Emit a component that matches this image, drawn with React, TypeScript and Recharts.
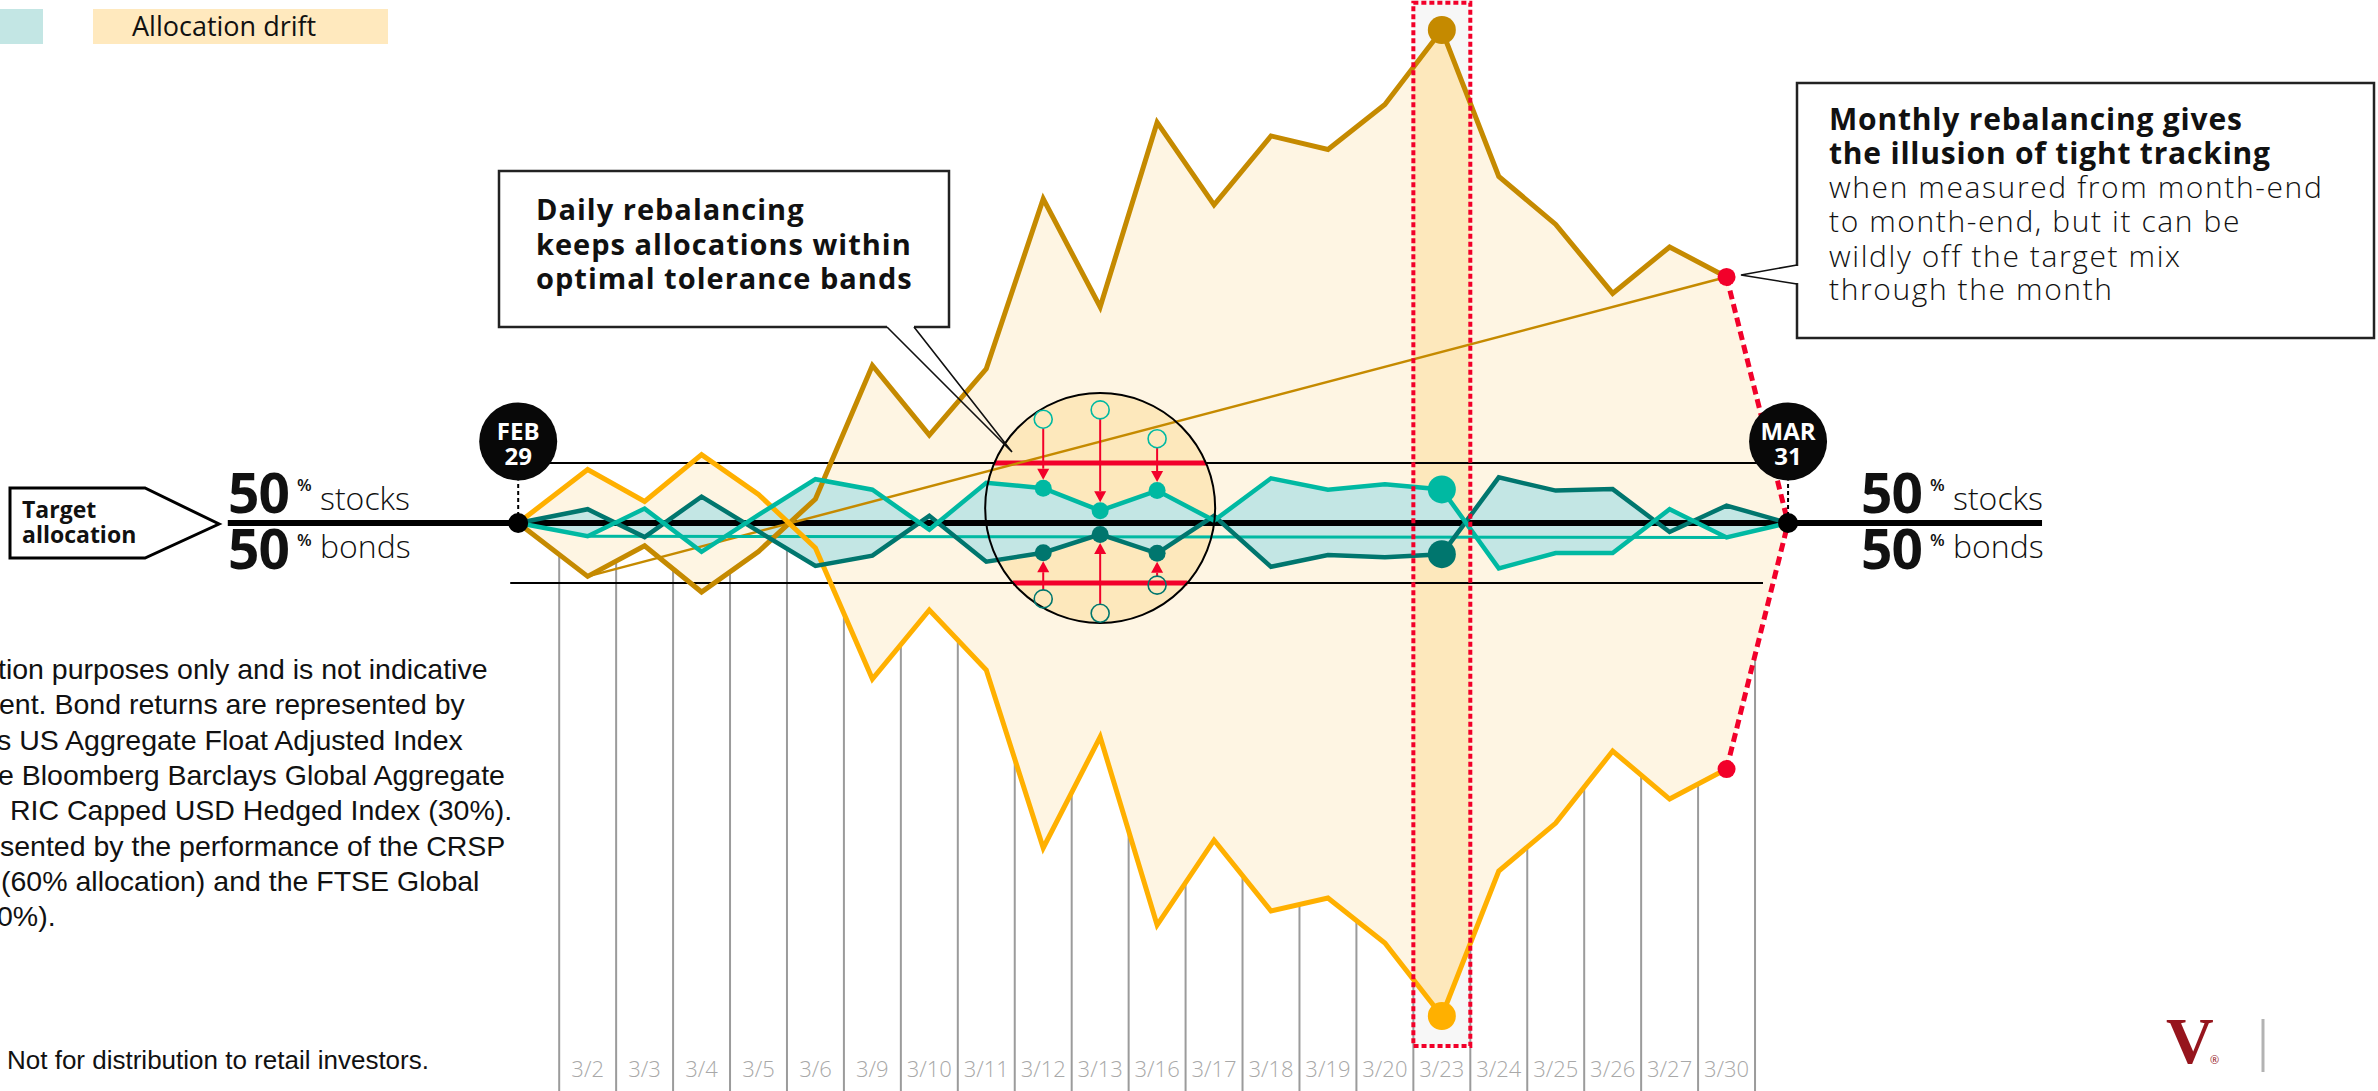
import React from "react";
import {
  Area,
  ComposedChart,
  Line,
  ReferenceArea,
  ReferenceDot,
  ReferenceLine,
  XAxis,
  YAxis,
} from "recharts";

const W = 2378;
const H = 1091;

// trading days of March plus the two month-end anchors
const days = [
  "FEB 29", "3/2", "3/3", "3/4", "3/5", "3/6", "3/9", "3/10", "3/11", "3/12", "3/13",
  "3/16", "3/17", "3/18", "3/19", "3/20", "3/23", "3/24", "3/25", "3/26", "3/27", "3/30", "MAR 31",
];
// trading days sit on whole slots, the month-end anchors just outside them
const slots = [
  -0.22, 1, 2, 3, 4, 5, 6, 7, 8, 9, 10, 11, 12, 13, 14, 15, 16, 17, 18, 19, 20, 21, 22.08,
];

// drift from the 50/50 target, percentage points
const monthlyStocks = [
  0, -1.78, -0.76, -2.3, -0.95, 0.8, 5.25, 2.93, 5.14, 10.8, 7.2, 13.35, 10.6, 12.9, 12.45,
  13.95, 16.43, 11.55, 9.95, 7.65, 9.2, 8.2, 0,
];
const monthlyBonds = [
  0, 1.78, 0.72, 2.28, 0.95, -0.83, -5.2, -2.9, -4.9, -10.83, -7.13, -13.4, -10.57, -12.93,
  -12.5, -14.0, -16.43, -11.6, -10.0, -7.6, -9.2, -8.2, 0,
];
const dailyStocks = [
  0, -0.44, 0.48, -0.96, 0.27, 1.46, 1.11, -0.22, 1.34, 1.16, 0.41, 1.08, 0.08, 1.49, 1.11,
  1.29, 1.12, -1.51, -1.0, -1.0, 0.46, -0.48, 0,
];
const dailyBonds = [
  0, 0.46, -0.47, 0.88, -0.28, -1.43, -1.09, 0.24, -1.29, -0.99, -0.38, -1.01, 0.24, -1.46,
  -1.07, -1.14, -1.04, 1.52, 1.08, 1.13, -0.3, 0.58, 0,
];

// the three days inside the magnifier: drift before the daily trade
const zoomDays = ["3/12", "3/13", "3/16"];
const zoomStocksBefore = [3.46, 3.77, 2.81];
const zoomBondsBefore = [-2.53, -3.01, -2.07];

const tolerance = 2;
const spotlightDay = "3/23";
const magnifierDay = "3/13";

const GOLD = "#C58A00";
const YELLOW = "#FFB000";
const TEAL = "#00B9A2";
const TEAL_DARK = "#00766E";
const TEAL_FILL = "#C3E6E4";
const CREAM = "#FEF5E3";
const PEACH = "#FDE8BC";
const RED = "#F2002A";
const GRID = "#9B9B9B";
const SANS = "'Open Sans', 'Noto Sans', sans-serif";

const X_DOMAIN: [number, number] = [-9.32, 32.44];
const Y_DOMAIN: [number, number] = [-18.93, 17.43];
const PX_X = W / (X_DOMAIN[1] - X_DOMAIN[0]);
const PX_Y = H / (Y_DOMAIN[1] - Y_DOMAIN[0]);
const pxOfSlot = (s: number) => (s - X_DOMAIN[0]) * PX_X;

const MAG_R = 115;
const MAG_Y = 0.5;
const BADGE_Y = 2.72;
const BADGE_R = 39;
const OPEN_R = 9;
const SMALL_DOT = 8.5;
const BIG_DOT = 14;

const last = days.length - 1;
const slotOf = (d: string) => slots[days.indexOf(d)];

const rows = days.map((day, i) => ({
  day,
  slot: slots[i],
  drift: [monthlyBonds[i], monthlyStocks[i]],
  daily: [dailyBonds[i], dailyStocks[i]],
  stocksM: i < last ? monthlyStocks[i] : null,
  bondsM: i < last ? monthlyBonds[i] : null,
  stocksD: dailyStocks[i],
  bondsD: dailyBonds[i],
}));

const tickSlots = slots.slice(1, last);
const gridSlots = [0, ...tickSlots].map((s) => s + 0.5);
const spot = slotOf(spotlightDay);
const magX = slotOf(magnifierDay);

// half width of the magnifier at a given drift level, in slot units
const chord = (y: number) => {
  const dy = (y - MAG_Y) * PX_Y;
  return Math.sqrt(Math.max(0, MAG_R * MAG_R - dy * dy)) / PX_X;
};

const dotRenderer =
  (color: string, sizes: Record<string, number>) =>
  (p: any) => {
    const r = sizes[p.payload?.day];
    if (!r || p.cx == null || p.cy == null) return <g key={`n-${p.index}`} />;
    return <circle key={`d-${p.index}`} cx={p.cx} cy={p.cy} r={r} fill={color} />;
  };

const tealSizes: Record<string, number> = {
  "3/12": SMALL_DOT,
  "3/13": SMALL_DOT,
  "3/16": SMALL_DOT,
  [spotlightDay]: BIG_DOT,
};
const goldSizes: Record<string, number> = { [spotlightDay]: BIG_DOT };

const Arrow = (p: any) => {
  const { x1, y1, y2 } = p;
  const dir = y2 > y1 ? 1 : -1;
  const start = y1 + dir * OPEN_R;
  const tip = y2 - dir * SMALL_DOT;
  const base = tip - dir * 11;
  return (
    <g>
      <line x1={x1} y1={start} x2={x1} y2={base} stroke={RED} strokeWidth={2} />
      <polygon points={`${x1 - 6},${base} ${x1 + 6},${base} ${x1},${tip}`} fill={RED} />
    </g>
  );
};

const Badge = (top: string, bottom: string) => (p: any) => (
  <g>
    <circle cx={p.cx} cy={p.cy} r={BADGE_R} fill="#080808" />
    <text x={p.cx} y={p.cy - 1} textAnchor="middle" fill="#fff" fontFamily={SANS} fontWeight={700} fontSize={24}>
      {top}
    </text>
    <text x={p.cx} y={p.cy + 24} textAnchor="middle" fill="#fff" fontFamily={SANS} fontWeight={700} fontSize={24}>
      {bottom}
    </text>
  </g>
);

function Split({ x }: { x: number }) {
  return (
    <g fontFamily={SANS} fill="#111">
      <text x={x - 2} y={513} fontSize={55} fontWeight={700} letterSpacing={-1}>50</text>
      <text x={x + 67} y={491} fontSize={17} fontWeight={600}>%</text>
      <text x={x + 90} y={510} fontSize={32} fontWeight={300}>stocks</text>
      <text x={x - 2} y={569} fontSize={55} fontWeight={700} letterSpacing={-1}>50</text>
      <text x={x + 67} y={546} fontSize={17} fontWeight={600}>%</text>
      <text x={x + 90} y={558} fontSize={32} fontWeight={300}>bonds</text>
    </g>
  );
}

const footnote = [
  { x: -2, text: "tion purposes only and is not indicative" },
  { x: -1, text: "ent. Bond returns are represented by" },
  { x: -3, text: "s US Aggregate Float Adjusted Index" },
  { x: -2, text: "e Bloomberg Barclays Global Aggregate" },
  { x: 10, text: "RIC Capped USD Hedged Index (30%)." },
  { x: 0, text: "sented by the performance of the CRSP" },
  { x: 1, text: "(60% allocation) and the FTSE Global" },
  { x: -3, text: "0%)." },
];

function Annotations() {
  return (
    <svg width={W} height={H} style={{ position: "absolute", left: 0, top: 0, pointerEvents: "none" }}>
      {/* legend */}
      <rect x={-5} y={9} width={48} height={35} fill={TEAL_FILL} />
      <rect x={93} y={9} width={295} height={35} fill="#FFE9BE" />
      <text x={132} y={36} fontFamily={SANS} fontSize={27} fill="#111">Allocation drift</text>

      {/* target allocation tag */}
      <polygon points="10,488 145,488 219,524 145,558 10,558" fill="#fff" stroke="#000" strokeWidth={3} />
      <text x={22} y={518} fontFamily={SANS} fontWeight={700} fontSize={23} fill="#111">Target</text>
      <text x={22} y={543} fontFamily={SANS} fontWeight={700} fontSize={23} fill="#111">allocation</text>
      <Split x={230} />
      <Split x={1863} />

      {/* daily callout */}
      <rect x={499} y={171} width={450} height={156} fill="#fff" stroke="#222" strokeWidth={2.5} />
      <line x1={887} y1={327} x2={914} y2={327} stroke="#fff" strokeWidth={4} />
      <path d="M887,327 L1012,452 L914,327" fill="none" stroke="#111" strokeWidth={1.6} />
      <g fontFamily={SANS} fontWeight={700} fontSize={29} fill="#111" letterSpacing={1}>
        <text x={536} y={220}>Daily rebalancing</text>
        <text x={536} y={255}>keeps allocations within</text>
        <text x={536} y={289}>optimal tolerance bands</text>
      </g>

      {/* monthly callout */}
      <rect x={1797} y={83} width={577} height={255} fill="#fff" stroke="#222" strokeWidth={2.5} />
      <line x1={1797} y1={266} x2={1797} y2={283} stroke="#fff" strokeWidth={4} />
      <path d="M1797,265 L1741,275 L1797,284" fill="none" stroke="#111" strokeWidth={1.6} />
      <g fontFamily={SANS} fontSize={30} fill="#111">
        <text x={1829} y={130} fontWeight={700} letterSpacing={0.8}>Monthly rebalancing gives</text>
        <text x={1829} y={164} fontWeight={700} letterSpacing={0.8}>the illusion of tight tracking</text>
        <text x={1829} y={198} fontWeight={300} letterSpacing={1.6}>when measured from month-end</text>
        <text x={1829} y={232} fontWeight={300} letterSpacing={1.6}>to month-end, but it can be</text>
        <text x={1829} y={267} fontWeight={300} letterSpacing={1.6}>wildly off the target mix</text>
        <text x={1829} y={300} fontWeight={300} letterSpacing={1.6}>through the month</text>
      </g>

      {/* footnote */}
      <g fontFamily="'Liberation Sans', Arial, sans-serif" fill="#111">
        {footnote.map((l, i) => (
          <text key={i} x={l.x} y={679 + i * 35.3} fontSize={28.5}>{l.text}</text>
        ))}
        <text x={7} y={1069} fontSize={26}>Not for distribution to retail investors.</text>
      </g>

      {/* logo */}
      <text x={2166} y={1063} fontFamily="'Liberation Serif', serif" fontWeight={700} fontSize={66} fill="#96151D">V</text>
      <text x={2210} y={1064} fontFamily={SANS} fontSize={11} fill="#96151D">®</text>
      <line x1={2263} y1={1019} x2={2263} y2={1072} stroke="#B3B3B3" strokeWidth={3} />
    </svg>
  );
}

export default function App() {
  const c0 = pxOfSlot(spot - 0.5) / W;
  const c1 = pxOfSlot(spot + 0.5) / W;
  const top = Y_DOMAIN[1];
  const columnBottom = -17.43;
  const lineStart = -5.32;
  const lineEnd = 26.54;

  return (
    <div style={{ position: "relative", width: W, height: H, overflow: "hidden", background: "#fff" }}>
      <style>{"body{margin:0}"}</style>
      <ComposedChart width={W} height={H} data={rows} margin={{ top: 0, right: 0, bottom: 0, left: 0 }}>
        <defs>
          <linearGradient id="driftFill" gradientUnits="userSpaceOnUse" x1={0} y1={0} x2={W} y2={0}>
            <stop offset={c0} stopColor={CREAM} />
            <stop offset={c0} stopColor={PEACH} />
            <stop offset={c1} stopColor={PEACH} />
            <stop offset={c1} stopColor={CREAM} />
          </linearGradient>
        </defs>
        <XAxis
          type="number"
          dataKey="slot"
          domain={X_DOMAIN}
          allowDataOverflow
          ticks={tickSlots}
          interval={0}
          tickFormatter={(v) => days[slots.indexOf(v)] ?? ""}
          axisLine={false}
          tickLine={false}
          mirror
          tickMargin={8}
          tick={{ fill: "#A8A8A8", fontSize: 22, fontFamily: SANS, fontWeight: 300 }}
        />
        <YAxis type="number" domain={Y_DOMAIN} allowDataOverflow hide />

        <ReferenceArea x1={spot - 0.5} x2={spot + 0.5} y1={columnBottom} y2={top} fill="#F7F7F7" fillOpacity={1} stroke="none" zIndex={1} />
        {gridSlots.map((g) => (
          <ReferenceLine key={g} segment={[{ x: g, y: 0 }, { x: g, y: Y_DOMAIN[0] }]} stroke={GRID} strokeWidth={2} zIndex={2} />
        ))}

        <Area dataKey="drift" type="linear" fill="url(#driftFill)" fillOpacity={1} stroke="none" isAnimationActive={false} activeDot={false} zIndex={3} />

        {[tolerance, -tolerance].map((b) => (
          <ReferenceLine key={b} segment={[{ x: -0.36, y: b }, { x: 21.64, y: b }]} stroke="#000" strokeWidth={2} zIndex={4} />
        ))}

        <ReferenceDot x={magX} y={MAG_Y} r={MAG_R} fill={PEACH} stroke="none" zIndex={5} />
        {[tolerance, -tolerance].map((b) => (
          <ReferenceLine
            key={`r${b}`}
            segment={[{ x: magX - chord(b), y: b }, { x: magX + chord(b), y: b }]}
            stroke={RED}
            strokeWidth={5}
            zIndex={6}
          />
        ))}

        <Area dataKey="daily" type="linear" fill={TEAL_FILL} fillOpacity={1} stroke="none" isAnimationActive={false} activeDot={false} zIndex={7} />

        <ReferenceLine segment={[{ x: lineStart, y: 0 }, { x: lineEnd, y: 0 }]} stroke="#000" strokeWidth={6} zIndex={8} />

        {/* straight month-end to month-end readings */}
        <ReferenceLine segment={[{ x: slots[1], y: monthlyStocks[1] }, { x: slots[last - 1], y: monthlyStocks[last - 1] }]} stroke={GOLD} strokeWidth={2.5} zIndex={9} />
        <ReferenceLine segment={[{ x: slots[1], y: dailyStocks[1] }, { x: slots[last - 1], y: dailyStocks[last - 1] }]} stroke={TEAL} strokeWidth={3} zIndex={9} />

        <Line dataKey="stocksM" type="linear" stroke={GOLD} strokeWidth={5} dot={dotRenderer(GOLD, goldSizes)} activeDot={false} isAnimationActive={false} zIndex={10} />
        <Line dataKey="bondsM" type="linear" stroke={YELLOW} strokeWidth={5} dot={dotRenderer(YELLOW, goldSizes)} activeDot={false} isAnimationActive={false} zIndex={10} />
        <Line dataKey="bondsD" type="linear" stroke={TEAL_DARK} strokeWidth={4.5} dot={dotRenderer(TEAL_DARK, tealSizes)} activeDot={false} isAnimationActive={false} zIndex={11} />
        <Line dataKey="stocksD" type="linear" stroke={TEAL} strokeWidth={4.5} dot={dotRenderer(TEAL, tealSizes)} activeDot={false} isAnimationActive={false} zIndex={11} />

        <ReferenceDot x={magX} y={MAG_Y} r={MAG_R} fill="none" stroke="#000" strokeWidth={2} zIndex={12} />
        {zoomDays.map((d, i) => (
          <React.Fragment key={d}>
            <ReferenceLine segment={[{ x: slotOf(d), y: zoomStocksBefore[i] }, { x: slotOf(d), y: dailyStocks[days.indexOf(d)] }]} shape={Arrow} zIndex={13} />
            <ReferenceLine segment={[{ x: slotOf(d), y: zoomBondsBefore[i] }, { x: slotOf(d), y: dailyBonds[days.indexOf(d)] }]} shape={Arrow} zIndex={13} />
            <ReferenceDot x={slotOf(d)} y={zoomStocksBefore[i]} r={OPEN_R} fill="none" stroke={TEAL} strokeWidth={1.6} zIndex={13} />
            <ReferenceDot x={slotOf(d)} y={zoomBondsBefore[i]} r={OPEN_R} fill="none" stroke={TEAL_DARK} strokeWidth={1.6} zIndex={13} />
          </React.Fragment>
        ))}

        {/* month-end snap back to target */}
        <ReferenceLine segment={[{ x: slots[last - 1], y: monthlyStocks[last - 1] }, { x: slots[last], y: 0 }]} stroke={RED} strokeWidth={5} strokeDasharray="9 5" zIndex={14} />
        <ReferenceLine segment={[{ x: slots[last - 1], y: monthlyBonds[last - 1] }, { x: slots[last], y: 0 }]} stroke={RED} strokeWidth={5} strokeDasharray="9 5" zIndex={14} />
        <ReferenceDot x={slots[last - 1]} y={monthlyStocks[last - 1]} r={9} fill={RED} stroke="none" zIndex={15} />
        <ReferenceDot x={slots[last - 1]} y={monthlyBonds[last - 1]} r={9} fill={RED} stroke="none" zIndex={15} />

        <ReferenceArea x1={spot - 0.5} x2={spot + 0.5} y1={columnBottom} y2={top - 0.09} fill="none" stroke={RED} strokeWidth={4} strokeDasharray="5 3" zIndex={16} />

        {[0, last].map((i) => (
          <React.Fragment key={i}>
            <ReferenceLine segment={[{ x: slots[i], y: 0 }, { x: slots[i], y: BADGE_Y - BADGE_R / PX_Y }]} stroke="#000" strokeWidth={2} strokeDasharray="4 3" zIndex={17} />
            <ReferenceDot x={slots[i]} y={0} r={10} fill="#000" stroke="none" zIndex={17} />
            <ReferenceDot
              x={slots[i]}
              y={BADGE_Y}
              r={BADGE_R}
              shape={i === 0 ? Badge("FEB", "29") : Badge("MAR", "31")}
              zIndex={18}
            />
          </React.Fragment>
        ))}
      </ComposedChart>
      <Annotations />
    </div>
  );
}
